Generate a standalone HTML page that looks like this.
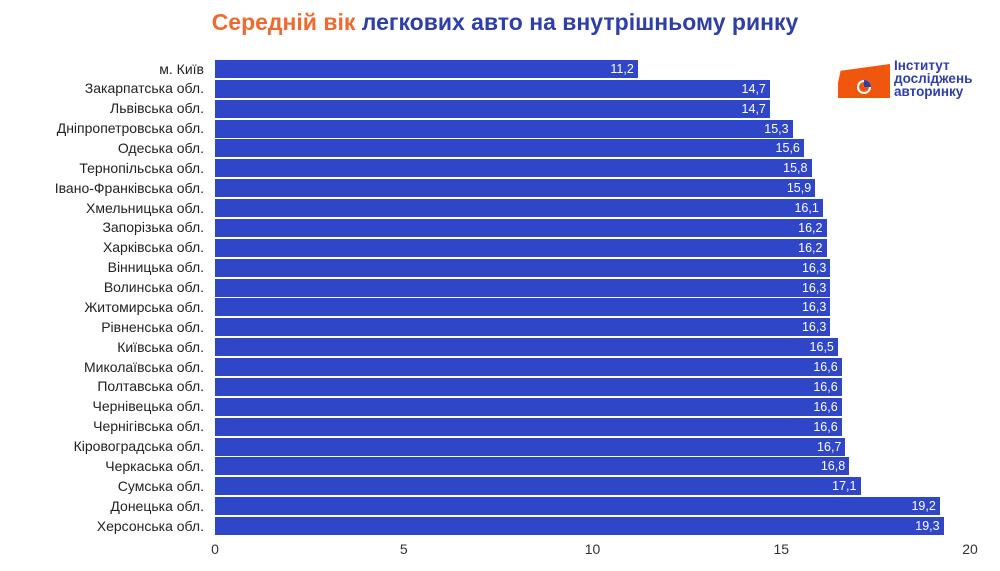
<!DOCTYPE html>
<html><head><meta charset="utf-8"><style>
body{margin:0;width:1000px;height:571px;background:#fff;overflow:hidden;font-family:"Liberation Sans",sans-serif;position:relative}
.t{position:absolute;left:0;width:1010px;top:9px;text-align:center;font-weight:bold;font-size:23px;color:#2e3fa8;white-space:nowrap}
.t span{color:#ef6a2f}
.lab{position:absolute;right:796px;font-size:14px;color:#222;white-space:nowrap;line-height:17px}
.bar{position:absolute;left:215px;height:18px;background:#3046c8}
.v{position:absolute;right:4px;top:0;line-height:18px;font-size:12.5px;color:#fff}
.ax{position:absolute;top:541px;font-size:14px;color:#333;transform:translateX(-50%)}
</style></head><body>
<div class="t"><span>Середній вік</span> легкових авто на внутрішньому ринку</div>
<div style="position:absolute;left:838px;top:64px;width:52px;height:34px;background:#f0560e;clip-path:polygon(5% 20%,100% 0,100% 100%,0 100%,0 55%)"></div>
<div style="position:absolute;left:857px;top:80px;width:14px;height:14px;border-radius:50%;border:2px solid #fff;box-sizing:border-box"></div>
<div style="position:absolute;left:864px;top:80px;width:7px;height:7px;background:#2e3fa8;border-top-right-radius:7px"></div>
<div style="position:absolute;left:894px;top:59px;font-size:13.5px;font-weight:bold;color:#2e3fa8;line-height:13px">Інститут<br>досліджень<br>авторинку</div>
<div id="c"></div>
<script>
var d=[["м. Київ",11.2],["Закарпатська обл.",14.7],["Львівська обл.",14.7],["Дніпропетровська обл.",15.3],["Одеська обл.",15.6],["Тернопільська обл.",15.8],["Івано-Франківська обл.",15.9],["Хмельницька обл.",16.1],["Запорізька обл.",16.2],["Харківська обл.",16.2],["Вінницька обл.",16.3],["Волинська обл.",16.3],["Житомирська обл.",16.3],["Рівненська обл.",16.3],["Київська обл.",16.5],["Миколаївська обл.",16.6],["Полтавська обл.",16.6],["Чернівецька обл.",16.6],["Чернігівська обл.",16.6],["Кіровоградська обл.",16.7],["Черкаська обл.",16.8],["Сумська обл.",17.1],["Донецька обл.",19.2],["Херсонська обл.",19.3]];
var h="";
d.forEach(function(r,i){var y=60+i*19.87;
h+='<div class="lab" style="top:'+(y+0.5)+'px">'+r[0]+'</div>';
h+='<div class="bar" style="top:'+y+'px;width:'+(r[1]*37.75).toFixed(1)+'px"><span class="v">'+r[1].toFixed(1).replace(".",",")+'</span></div>';});
[0,5,10,15,20].forEach(function(v){h+='<div class="ax" style="left:'+(215+v*37.75)+'px">'+v+'</div>';});
document.getElementById("c").innerHTML=h;
</script>
</body></html>
